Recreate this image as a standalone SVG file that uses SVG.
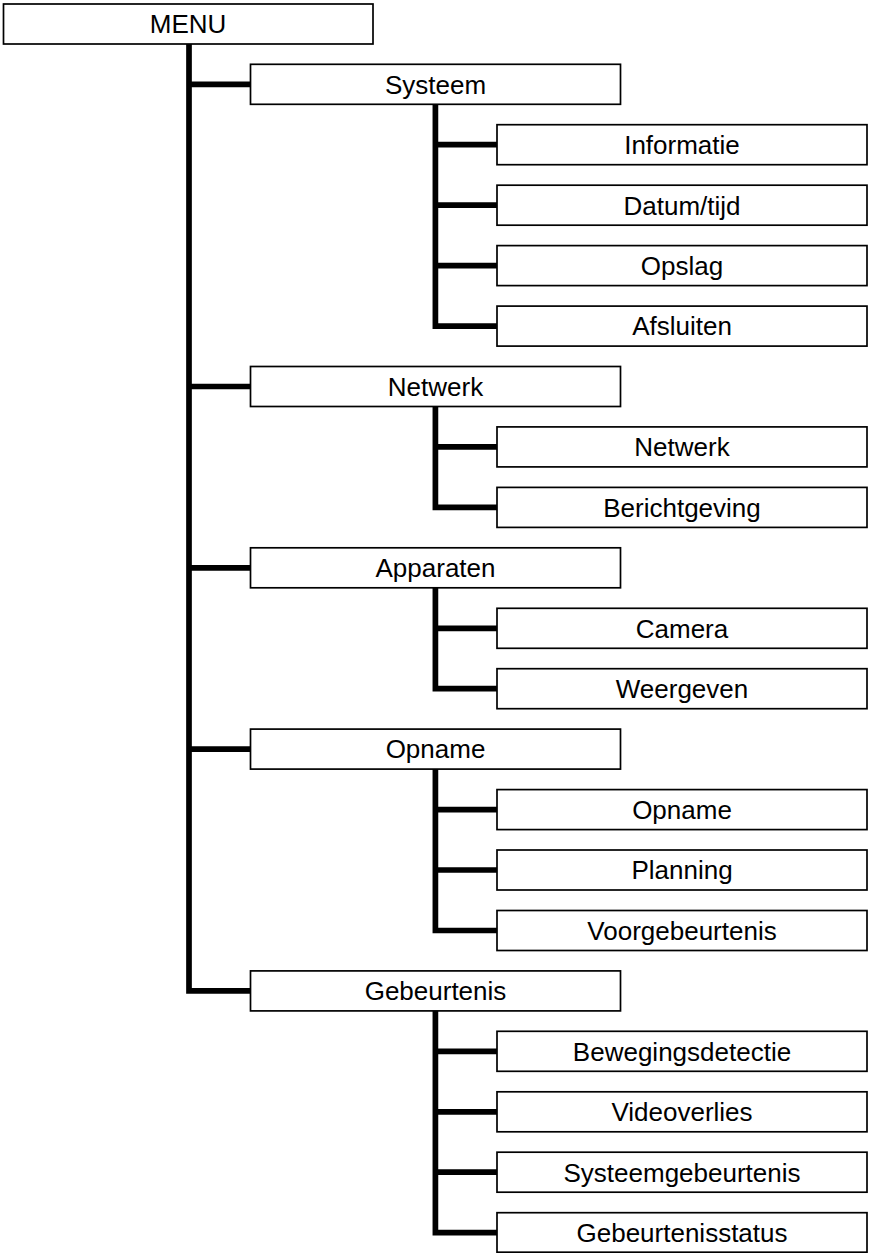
<svg xmlns="http://www.w3.org/2000/svg" width="869" height="1253" viewBox="0 0 869 1253">
<style>
.box{fill:#fff;stroke:#000;stroke-width:1.7}
.t{font-family:"Liberation Sans",Arial,sans-serif;font-size:26px;text-anchor:middle;fill:#000}
.c{fill:none;stroke:#000;stroke-width:5.7;stroke-linejoin:miter;stroke-linecap:butt}
</style>
<rect width="869" height="1253" fill="#fff"/>
<g id="connectors">
<path class="c" d="M189 44V990.9H250M189 84.3H250M189 386.5H250M189 567.8H250M189 749.1H250"/>
<path class="c" d="M435.4 104.3V326.1H497M435.4 144.7H497M435.4 205.2H497M435.4 265.6H497"/>
<path class="c" d="M435.4 406.5V507.4H497M435.4 446.9H497"/>
<path class="c" d="M435.4 587.8V688.7H497M435.4 628.3H497"/>
<path class="c" d="M435.4 769.1V930.5H497M435.4 809.6H497M435.4 870H497"/>
<path class="c" d="M435.4 1010.9V1232.7H497M435.4 1051.3H497M435.4 1111.8H497M435.4 1172.2H497"/>
</g>
<g id="menu"><rect class="box" x="3.5" y="4" width="369.5" height="40"/><text class="t" x="188" y="33.3">MENU</text></g>
<g id="systeem"><rect class="box" x="250.5" y="64.3" width="370" height="40"/><text class="t" x="435.5" y="93.6">Systeem</text></g>
<g id="informatie"><rect class="box" x="497" y="124.7" width="370" height="40"/><text class="t" x="682" y="154">Informatie</text></g>
<g id="datumtijd"><rect class="box" x="497" y="185.2" width="370" height="40"/><text class="t" x="682" y="214.5">Datum/tijd</text></g>
<g id="opslag"><rect class="box" x="497" y="245.6" width="370" height="40"/><text class="t" x="682" y="274.9">Opslag</text></g>
<g id="afsluiten"><rect class="box" x="497" y="306.1" width="370" height="40"/><text class="t" x="682" y="335.4">Afsluiten</text></g>
<g id="netwerk"><rect class="box" x="250.5" y="366.5" width="370" height="40"/><text class="t" x="435.5" y="395.8">Netwerk</text></g>
<g id="netwerk2"><rect class="box" x="497" y="426.9" width="370" height="40"/><text class="t" x="682" y="456.2">Netwerk</text></g>
<g id="berichtgeving"><rect class="box" x="497" y="487.4" width="370" height="40"/><text class="t" x="682" y="516.7">Berichtgeving</text></g>
<g id="apparaten"><rect class="box" x="250.5" y="547.8" width="370" height="40"/><text class="t" x="435.5" y="577.1">Apparaten</text></g>
<g id="camera"><rect class="box" x="497" y="608.3" width="370" height="40"/><text class="t" x="682" y="637.6">Camera</text></g>
<g id="weergeven"><rect class="box" x="497" y="668.7" width="370" height="40"/><text class="t" x="682" y="698">Weergeven</text></g>
<g id="opname"><rect class="box" x="250.5" y="729.1" width="370" height="40"/><text class="t" x="435.5" y="758.4">Opname</text></g>
<g id="opname2"><rect class="box" x="497" y="789.6" width="370" height="40"/><text class="t" x="682" y="818.9">Opname</text></g>
<g id="planning"><rect class="box" x="497" y="850" width="370" height="40"/><text class="t" x="682" y="879.3">Planning</text></g>
<g id="voorgebeurtenis"><rect class="box" x="497" y="910.5" width="370" height="40"/><text class="t" x="682" y="939.8">Voorgebeurtenis</text></g>
<g id="gebeurtenis"><rect class="box" x="250.5" y="970.9" width="370" height="40"/><text class="t" x="435.5" y="1000.2">Gebeurtenis</text></g>
<g id="bewegingsdetectie"><rect class="box" x="497" y="1031.3" width="370" height="40"/><text class="t" x="682" y="1060.6">Bewegingsdetectie</text></g>
<g id="videoverlies"><rect class="box" x="497" y="1091.8" width="370" height="40"/><text class="t" x="682" y="1121.1">Videoverlies</text></g>
<g id="systeemgebeurtenis"><rect class="box" x="497" y="1152.2" width="370" height="40"/><text class="t" x="682" y="1181.5">Systeemgebeurtenis</text></g>
<g id="gebeurtenisstatus"><rect class="box" x="497" y="1212.7" width="370" height="39.5"/><text class="t" x="682" y="1242">Gebeurtenisstatus</text></g>
</svg>
